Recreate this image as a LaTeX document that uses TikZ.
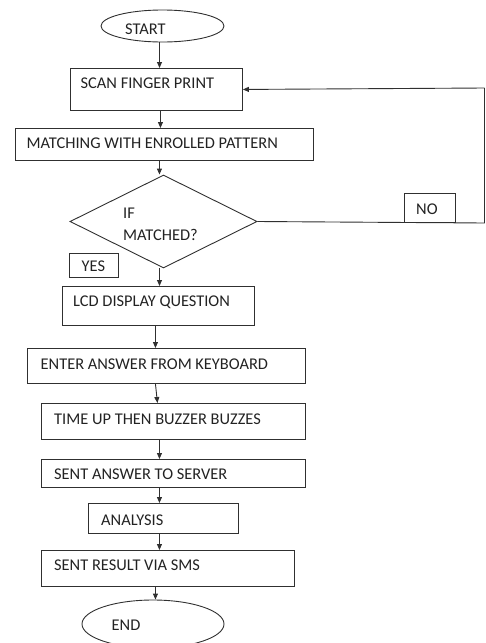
\documentclass[tikz,border=0pt]{standalone}
\usepackage{fontspec}
\setmainfont{Carlito}
\usetikzlibrary{arrows.meta,shapes.geometric}
\definecolor{ink}{HTML}{303030}
\definecolor{tink}{HTML}{222222}
\tikzset{
  box/.style={draw=ink, line width=0.9pt, inner sep=0pt, anchor=north west},
  oval/.style={draw=ink, line width=0.9pt, ellipse, inner sep=0pt},
  txt/.style={anchor=base west, inner sep=0pt, text=tink, font=\fontsize{16.4}{19}\selectfont},
  arr/.style={draw=ink, line width=0.9pt, -{Triangle[length=6pt,width=5pt]}},
  ln/.style={draw=ink, line width=0.9pt}
}
\begin{document}
\begin{tikzpicture}[x=1pt,y=-1pt]
\useasboundingbox (0,0) rectangle (485,643);
\clip (0,0) rectangle (485,643);
% shapes
\node[oval, minimum width=123pt, minimum height=32pt] (start) at (162.5,26) {};
\node[box, minimum width=172pt, minimum height=42pt] (scan) at (70,68) {};
\node[box, minimum width=298pt, minimum height=32pt] (match) at (15,128) {};
\node[draw=ink, line width=0.9pt, diamond, inner sep=0pt, minimum width=187pt, minimum height=93pt] (diam) at (163.5,221.5) {};
\node[box, minimum width=51pt, minimum height=29pt] (no) at (404,193) {};
\node[box, minimum width=49pt, minimum height=24pt] (yes) at (69,253) {};
\node[box, minimum width=192pt, minimum height=39pt] (lcd) at (62,286) {};
\node[box, minimum width=278pt, minimum height=35pt] (enter) at (27,348) {};
\node[box, minimum width=264pt, minimum height=36pt] (time) at (41,403) {};
\node[box, minimum width=264pt, minimum height=28pt] (sent) at (41,459) {};
\node[box, minimum width=150pt, minimum height=30pt] (anal) at (88,503) {};
\node[box, minimum width=253pt, minimum height=36pt] (sms) at (41,550) {};
\node[oval, minimum width=142pt, minimum height=48pt] (end) at (153,624) {};
% texts
\node[txt] (startT) at (125,34) {START};
\node[txt] (scanT) at (80.5,88) {SCAN FINGER PRINT};
\node[txt] (matchT) at (26.5,148) {MATCHING WITH ENROLLED PATTERN};
\node[txt] (ifT) at (123,218) {IF};
\node[txt] (matchedT) at (123,240.5) {MATCHED?};
\node[txt] (noT) at (416,214) {NO};
\node[txt] (yesT) at (81.5,271.5) {YES};
\node[txt] (lcdT) at (73,306) {LCD DISPLAY QUESTION};
\node[txt] (enterT) at (40.5,369) {ENTER ANSWER FROM KEYBOARD};
\node[txt] (timeT) at (54,424) {TIME UP THEN BUZZER BUZZES};
\node[txt] (sentT) at (54,479) {SENT ANSWER TO SERVER};
\node[txt] (analT) at (101,525) {ANALYSIS};
\node[txt] (smsT) at (54,570.5) {SENT RESULT VIA SMS};
\node[txt] (endT) at (111.5,630.5) {END};
% connectors
\coordinate (c1) at (484.5,223);
\coordinate (c2) at (484.5,88);
\draw[arr] ([xshift=-3pt]start.south) -- ([xshift=-3pt]start.south |- scan.north);
\draw[arr] ([xshift=4pt]scan.south) -- ([xshift=4pt]scan.south |- match.north);
\draw[arr] ([xshift=-5pt]match.south) -- ([xshift=-5pt]match.south |- diam.north);
\draw[arr] ([xshift=-4pt]diam.south) -- ([xshift=-4pt]diam.south |- lcd.north);
\draw[arr] ([xshift=-3pt]lcd.south) -- ([xshift=-3pt]lcd.south |- enter.north);
\draw[arr] ([xshift=-11pt]enter.south) -- ([xshift=-16pt]time.north);
\draw[arr] ([xshift=-14pt]time.south) -- ([xshift=-14pt]time.south |- sent.north);
\draw[arr] ([xshift=-14pt]sent.south) -- ([xshift=-14pt]sent.south |- anal.north);
\draw[arr] ([xshift=-4pt]anal.south) -- ([xshift=-4pt]anal.south |- sms.north);
\draw[arr] ([xshift=-12.5pt]sms.south) -- ([xshift=-12.5pt]sms.south |- end.north);
\draw[ln] (diam.east) -- (c1) -- (c2);
\draw[arr] (c2) -- (scan.east);
\end{tikzpicture}
\end{document}
